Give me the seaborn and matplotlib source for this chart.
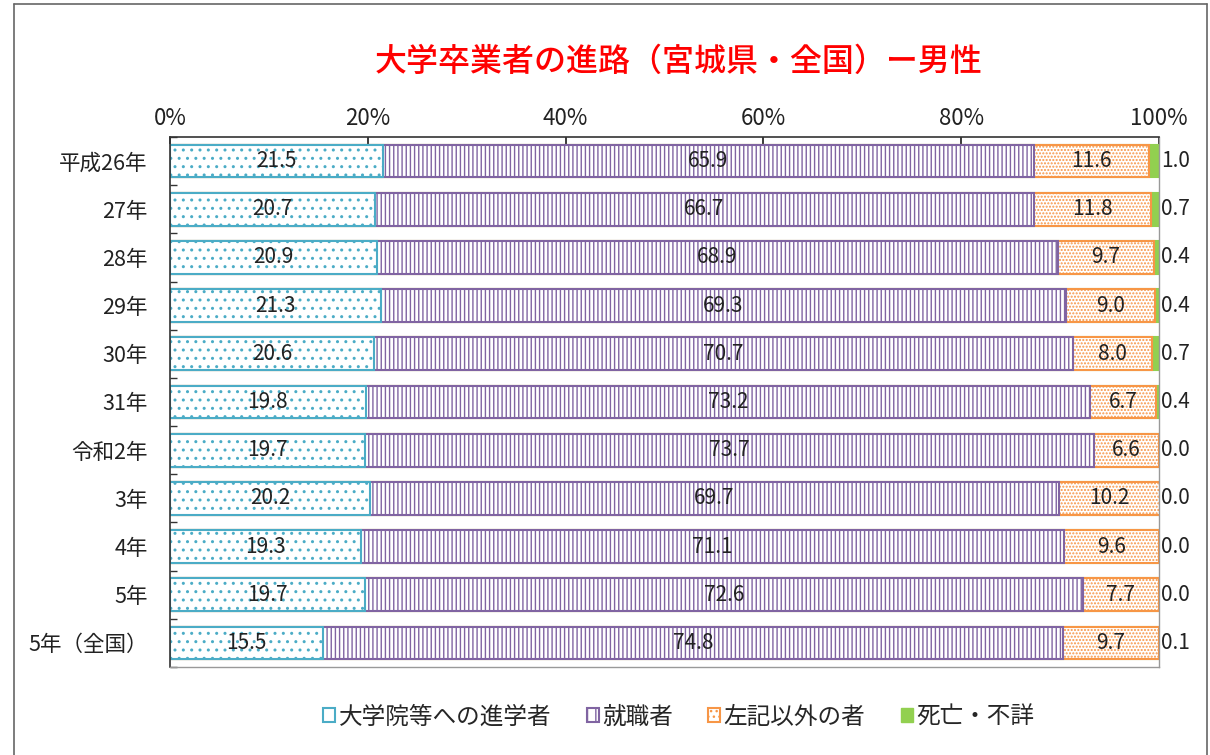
import matplotlib
matplotlib.use("Agg")
import matplotlib.pyplot as plt
import matplotlib.patches as mpatches
import seaborn as sns
import pandas as pd
import numpy as np

# data
years = ["平成26年", "27年", "28年", "29年", "30年", "31年", "令和2年", "3年", "4年", "5年", "5年（全国）"]
shingaku = [21.5, 20.7, 20.9, 21.3, 20.6, 19.8, 19.7, 20.2, 19.3, 19.7, 15.5]
shushoku = [65.9, 66.7, 68.9, 69.3, 70.7, 73.2, 73.7, 69.7, 71.1, 72.6, 74.8]
sonota = [11.6, 11.8, 9.7, 9.0, 8.0, 6.7, 6.6, 10.2, 9.6, 7.7, 9.7]
shibo = [1.0, 0.7, 0.4, 0.4, 0.7, 0.4, 0.0, 0.0, 0.0, 0.0, 0.1]
series_names = ["大学院等への進学者", "就職者", "左記以外の者", "死亡・不詳"]

sns.set_theme(style="white")
plt.rcParams['font.family'] = ['Noto Sans CJK JP', 'DejaVu Sans']
plt.rcParams['hatch.linewidth'] = 1.0

df = pd.DataFrame({"year": years, "a": shingaku, "b": shushoku, "c": sonota, "d": shibo})
df["c1"] = df["a"]
df["c2"] = df["a"] + df["b"]
df["c3"] = df["c2"] + df["c"]
df["c4"] = df["c3"] + df["d"]

fig = plt.figure(figsize=(12.1, 7.55), dpi=100)
ax = fig.add_axes([170 / 1210, 1 - 667 / 755, 989 / 1210, 530 / 755])

# stacked bars drawn as overlapping cumulative totals
styles = [
    ("c4", "#92D050", "#92D050", None),
    ("c3", "white", "#F79646", "....."),
    ("c2", "white", "#8064A2", "||||"),
    ("c1", "white", "#4BACC6", ".."),
]
for col, fc, ec, hatch in styles:
    sns.barplot(data=df, x=col, y="year", orient="h", color=fc, edgecolor=ec,
                linewidth=1.5, hatch=hatch, width=0.68, ax=ax, saturation=1)

# value labels
tc = "#222222"
for i in range(len(years)):
    ax.text(shingaku[i] / 2, i, f"{shingaku[i]:.1f}", ha="center", va="center", fontsize=15, color=tc)
    ax.text(df["c1"][i] + shushoku[i] / 2, i, f"{shushoku[i]:.1f}", ha="center", va="center", fontsize=15, color=tc)
    ax.text(df["c2"][i] + sonota[i] / 2, i, f"{sonota[i]:.1f}", ha="center", va="center", fontsize=15, color=tc)
    ax.text(100.25, i, f"{shibo[i]:.1f}", ha="left", va="center", fontsize=15, color=tc)

ax.set_xlim(0, 100)
ax.set_ylim(len(years) - 0.5, -0.5)
ax.xaxis.tick_top()
ax.set_xticks(np.arange(0, 101, 20))
ax.set_xticklabels([f"{v}%" for v in range(0, 101, 20)], fontsize=16, color=tc)
ax.tick_params(axis="x", direction="in", length=5, pad=5, colors=tc, top=True, bottom=False)
ax.set_yticks(np.arange(len(years)))
ax.set_yticklabels(years, fontsize=15.5, color=tc)
ax.set_yticks(np.arange(len(years) + 1) - 0.5, minor=True)
ax.tick_params(axis="y", which="major", length=0, pad=16)
ax.tick_params(axis="y", which="minor", direction="in", length=5, left=True, color="#333333")
ax.set_xlabel("")
ax.set_ylabel("")
for s in ["left", "top"]:
    ax.spines[s].set_color("#333333")
    ax.spines[s].set_linewidth(1.2)
for s in ["right", "bottom"]:
    ax.spines[s].set_color("#999999")
    ax.spines[s].set_linewidth(1.0)

fig.text(0.561, 1 - 62 / 755, "大学卒業者の進路（宮城県・全国）ー男性", ha="center", va="center",
         fontsize=23, color="#FF0000", fontweight="medium")

# legend
handles = [
    mpatches.Patch(facecolor="white", edgecolor="#4BACC6", linewidth=1.5, label=series_names[0]),
    mpatches.Patch(facecolor="white", edgecolor="#8064A2", hatch="||", linewidth=1.5, label=series_names[1]),
    mpatches.Patch(facecolor="white", edgecolor="#F79646", hatch="...", linewidth=1.5, label=series_names[2]),
    mpatches.Patch(facecolor="#92D050", edgecolor="#92D050", label=series_names[3]),
]
fig.legend(handles=handles, loc="center", bbox_to_anchor=(0.561, 1 - 717 / 755), ncol=4, frameon=False,
           fontsize=17, handlelength=0.5, handleheight=0.5, handletextpad=0.15, columnspacing=1.5)

# outer frame
for xs, ys in [([14, 14], [4, 755]), ([14, 1207], [4, 4]), ([1207, 1207], [4, 755])]:
    fig.add_artist(plt.Line2D([x / 1210 for x in xs], [1 - y / 755 for y in ys], color="#666666", linewidth=1.2))

fig.savefig("out.png", dpi=100)
